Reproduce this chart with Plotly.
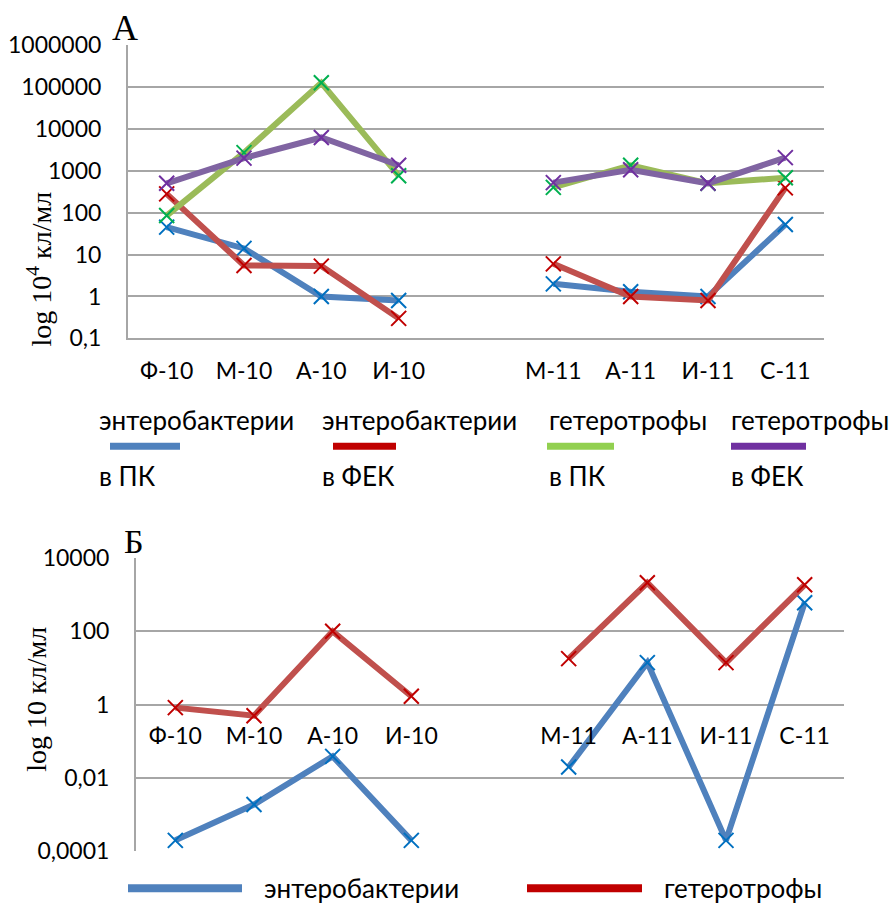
import plotly.graph_objects as go

W, H = 891, 907

categories = ["Ф-10", "М-10", "А-10", "И-10", "", "М-11", "А-11", "И-11", "С-11"]

# Panel A (log 10^4 кл/мл)
entero_pk = [45, 14, 1.0, 0.8, None, 2.0, 1.3, 1.0, 52]
entero_fek = [280, 5.5, 5.3, 0.3, None, 6.0, 1.0, 0.8, 390]
hetero_pk = [85, 2700, 125000, 760, None, 400, 1350, 500, 680]
hetero_fek = [500, 2000, 6200, 1350, None, 520, 1050, 500, 2050]

# Panel Б (log 10 кл/мл)
b_entero = [0.0002, 0.0019, 0.039, 0.0002, None, 0.02, 14, 0.0002, 600]
b_hetero = [0.83, 0.5, 100, 1.7, None, 18, 2100, 14, 1850]

a_tickvals = [0.1, 1, 10, 100, 1000, 10000, 100000, 1000000]
a_ticktext = ["0,1", "1", "10", "100", "1000", "10000", "100000", "1000000"]
b_tickvals = [0.0001, 0.01, 1, 100, 10000]
b_ticktext = ["0,0001", "0,01", "1", "100", "10000"]

legend_a = [("энтеробактерии", "в ПК"), ("энтеробактерии", "в ФЕК"),
            ("гетеротрофы", "в ПК"), ("гетеротрофы", "в ФЕК")]
legend_b = ["энтеробактерии", "гетеротрофы"]

line_cols = ["#4F81BD", "#C0504D", "#9BBB59", "#8064A2"]
mark_cols = ["#0070C0", "#C00000", "#00B050", "#7030A0"]
leg_cols = ["#4F81BD", "#C00000", "#92D050", "#7030A0"]

x = list(range(len(categories)))
tick_x = [i for i, c in zip(x, categories) if c]
tick_t = [c for c in categories if c]

SERIF = "Liberation Serif, Times New Roman, serif"
SANS = "Lato, Calibri, sans-serif"

fig = go.Figure()

def add(series, xa, ya, lc, mc):
    fig.add_trace(go.Scatter(
        x=x, y=series, xaxis=xa, yaxis=ya, mode="lines+markers",
        connectgaps=False, showlegend=False,
        line=dict(color=lc, width=6),
        marker=dict(symbol="x-thin", size=15, line=dict(color=mc, width=2), color=mc),
    ))

for s, lc, mc in zip([entero_pk, entero_fek, hetero_pk, hetero_fek], line_cols, mark_cols):
    add(s, "x", "y", lc, mc)
for s, lc, mc in zip([b_entero, b_hetero], line_cols[:2], mark_cols[:2]):
    add(s, "x2", "y2", lc, mc)

# screen-capture calibration (measured): screen_y = SY * page_y + OY
SY, OY = 0.971, 14.0

def px_x(p):
    return p / W

def px_y(p):
    return 1 - ((p - OY) / SY) / H

ya_dom = [px_y(338), px_y(44)]
yb_dom = [px_y(852), px_y(558)]

grid = "#A6A6A6"
fig.update_layout(
    width=W, height=H, margin=dict(l=0, r=0, t=0, b=0),
    paper_bgcolor="white", plot_bgcolor="white",
    xaxis=dict(domain=[px_x(128), px_x(824)], range=[-0.5, 8.5],
               tickvals=tick_x, ticktext=tick_t, showgrid=False, zeroline=False,
               showline=True, linecolor=grid, linewidth=2,
               ticks="outside", ticklen=11, tickcolor="rgba(0,0,0,0)",
               tickfont=dict(family=SANS, size=23, color="black"), anchor="y"),
    yaxis=dict(domain=ya_dom, type="log", range=[-1, 6],
               tickvals=a_tickvals, ticktext=a_ticktext,
               showgrid=True, gridcolor=grid, gridwidth=2, zeroline=False,
               showline=True, linecolor=grid, linewidth=2,
               ticks="outside", ticklen=20, tickcolor="rgba(0,0,0,0)",
               tickfont=dict(family=SANS, size=23, color="black"), anchor="x"),
    xaxis2=dict(domain=[px_x(136), px_x(844)], range=[-0.5, 8.5],
                tickvals=tick_x, ticktext=tick_t, showgrid=False, zeroline=False,
                showline=False, anchor="free", position=(yb_dom[0] + yb_dom[1]) / 2,
                ticks="outside", ticklen=11, tickcolor="rgba(0,0,0,0)",
                tickfont=dict(family=SANS, size=23, color="black")),
    yaxis2=dict(domain=yb_dom, type="log", range=[-4, 4],
                tickvals=b_tickvals, ticktext=b_ticktext,
                showgrid=True, gridcolor=grid, gridwidth=2, zeroline=False,
                showline=True, linecolor=grid, linewidth=2,
                ticks="outside", ticklen=20, tickcolor="rgba(0,0,0,0)",
                tickfont=dict(family=SANS, size=23, color="black"), anchor="x2"),
)

ann = []
ann.append(dict(text="А", x=px_x(125), y=px_y(27), font=dict(family=SERIF, size=36, color="black")))
ann.append(dict(text="Б", x=px_x(134), y=px_y(542), font=dict(family=SERIF, size=34, color="black")))
ann.append(dict(text="log 10<sup>4</sup> кл/мл", x=px_x(40), y=px_y(269), textangle=-90,
                font=dict(family=SERIF, size=28, color="black")))
ann.append(dict(text="log 10 кл/мл", x=px_x(37), y=px_y(700), textangle=-90,
                font=dict(family=SERIF, size=28, color="black")))

shapes = []
leg_a_text_x = [97, 320, 547, 729]
leg_a_line = [(110, 180), (333, 396), (547, 614), (731, 806)]
for (t1, t2), tx, (l0, l1), c in zip(legend_a, leg_a_text_x, leg_a_line, leg_cols):
    ann.append(dict(text=t1, x=px_x(tx), y=px_y(420), xanchor="left",
                    font=dict(family=SANS, size=26, color="black")))
    ann.append(dict(text=t2, x=px_x(tx), y=px_y(476), xanchor="left",
                    font=dict(family=SANS, size=26, color="black")))
    shapes.append(dict(type="line", xref="paper", yref="paper", x0=px_x(l0), x1=px_x(l1),
                       y0=px_y(446), y1=px_y(446), line=dict(color=c, width=7)))
leg_b_line = [(128, 242), (527, 642)]
leg_b_text_x = [262, 662]
for t, (l0, l1), tx, c in zip(legend_b, leg_b_line, leg_b_text_x, [line_cols[0], leg_cols[1]]):
    shapes.append(dict(type="line", xref="paper", yref="paper", x0=px_x(l0), x1=px_x(l1),
                       y0=px_y(889), y1=px_y(889), line=dict(color=c, width=8)))
    ann.append(dict(text=t, x=px_x(tx), y=px_y(889), xanchor="left",
                    font=dict(family=SANS, size=26, color="black")))

for a in ann:
    a.setdefault("xref", "paper")
    a.setdefault("yref", "paper")
    a.setdefault("showarrow", False)
    a.setdefault("xanchor", "center")
    a.setdefault("yanchor", "middle")

fig.update_layout(annotations=ann, shapes=shapes)
fig.write_html("out.html", config={"displayModeBar": False},
               post_script="document.body.style.margin='0';document.body.style.overflow='hidden';")
